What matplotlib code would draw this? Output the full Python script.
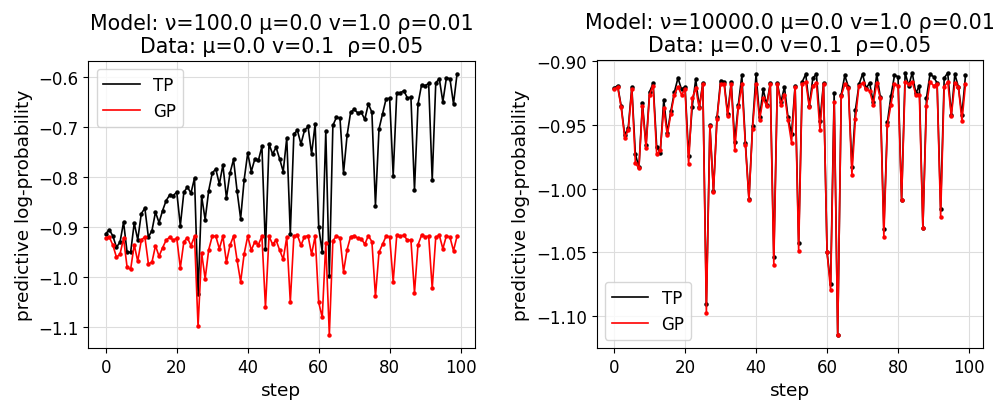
import numpy as np
import matplotlib
matplotlib.use("Agg")
import matplotlib.pyplot as plt

steps = list(range(100))

gp = [-0.922, -0.920, -0.936, -0.960, -0.954, -0.922, -0.980, -0.984, -0.935, -0.968,
      -0.926, -0.919, -0.973, -0.970, -0.937, -0.958, -0.941, -0.926, -0.920, -0.926,
      -0.922, -0.981, -0.929, -0.921, -0.937, -0.918, -1.098, -0.951, -1.003, -0.945,
      -0.918, -0.918, -0.943, -0.918, -0.970, -0.936, -0.918, -0.966, -1.009, -0.953,
      -0.918, -0.946, -0.929, -0.935, -0.918, -1.060, -0.918, -0.934, -0.926, -0.946,
      -0.964, -0.920, -1.049, -0.918, -0.916, -0.936, -0.919, -0.917, -0.954, -0.918,
      -1.050, -1.080, -0.932, -1.115, -0.927, -0.918, -0.921, -0.989, -0.945, -0.919,
      -0.917, -0.922, -0.923, -0.934, -0.917, -0.929, -1.038, -0.950, -0.934, -0.918,
      -0.919, -1.009, -0.916, -0.918, -0.916, -0.926, -0.926, -1.031, -0.935, -0.916,
      -0.919, -0.918, -1.022, -0.920, -0.916, -0.943, -0.917, -0.920, -0.947, -0.918]

tp_left = [-0.913, -0.905, -0.918, -0.940, -0.930, -0.890, -0.950, -0.950, -0.892, -0.925,
           -0.873, -0.862, -0.920, -0.907, -0.870, -0.891, -0.867, -0.847, -0.836, -0.837,
           -0.830, -0.897, -0.830, -0.820, -0.832, -0.802, -1.033, -0.838, -0.885, -0.827,
           -0.792, -0.784, -0.814, -0.776, -0.842, -0.792, -0.765, -0.828, -0.883, -0.805,
           -0.752, -0.789, -0.764, -0.767, -0.739, -0.943, -0.734, -0.754, -0.741, -0.764,
           -0.789, -0.722, -0.913, -0.714, -0.707, -0.734, -0.707, -0.699, -0.754, -0.694,
           -0.900, -0.949, -0.709, -0.998, -0.697, -0.681, -0.682, -0.792, -0.717, -0.671,
           -0.665, -0.672, -0.671, -0.685, -0.654, -0.671, -0.857, -0.704, -0.674, -0.644,
           -0.643, -0.797, -0.633, -0.632, -0.628, -0.642, -0.641, -0.826, -0.654, -0.616,
           -0.618, -0.613, -0.806, -0.612, -0.604, -0.650, -0.602, -0.604, -0.654, -0.594]

tp_right = [-0.921, -0.919, -0.935, -0.958, -0.952, -0.920, -0.973, -0.983, -0.933, -0.966,
            -0.924, -0.917, -0.967, -0.972, -0.930, -0.956, -0.939, -0.924, -0.913, -0.922,
            -0.920, -0.974, -0.936, -0.914, -0.936, -0.917, -1.091, -0.950, -1.002, -0.944,
            -0.915, -0.916, -0.941, -0.916, -0.963, -0.934, -0.911, -0.964, -1.008, -0.951,
            -0.910, -0.944, -0.922, -0.934, -0.917, -1.054, -0.917, -0.932, -0.920, -0.944,
            -0.957, -0.919, -1.043, -0.916, -0.910, -0.935, -0.913, -0.910, -0.947, -0.917,
            -1.050, -1.075, -0.925, -1.115, -0.926, -0.911, -0.920, -0.983, -0.938, -0.918,
            -0.910, -0.921, -0.917, -0.932, -0.910, -0.928, -1.032, -0.948, -0.927, -0.911,
            -0.912, -1.009, -0.909, -0.919, -0.909, -0.925, -0.919, -1.031, -0.929, -0.910,
            -0.912, -0.917, -1.016, -0.913, -0.909, -0.942, -0.910, -0.920, -0.942, -0.911]

titles = ["Model: \u03bd=100.0 \u03bc=0.0 v=1.0 \u03c1=0.01\nData: \u03bc=0.0 v=0.1  \u03c1=0.05",
          "Model: \u03bd=10000.0 \u03bc=0.0 v=1.0 \u03c1=0.01\nData: \u03bc=0.0 v=0.1  \u03c1=0.05"]
legend_locs = ["upper left", "lower left"]

plt.rcParams['font.family'] = ['DejaVu Sans']
fig = plt.figure(figsize=(9.95, 4.02), dpi=100)
axes = [fig.add_axes([0.0887, 0.1318, 0.3883, 0.7147]),
        fig.add_axes([0.5995, 0.1318, 0.3885, 0.7170])]

for ax, tp, title, loc in zip(axes, [tp_left, tp_right], titles, legend_locs):
    ax.plot(steps, tp, color='black', lw=1.2, label='TP')
    ax.plot(steps, tp, color='black', lw=0, marker='o', ms=2.2)
    ax.plot(steps, gp, color='red', lw=1.2, label='GP')
    ax.plot(steps, gp, color='red', lw=0, marker='o', ms=2.2)
    ax.set_title(title, fontsize=14.8)
    ax.set_xlabel('step', fontsize=13.3)
    ax.set_ylabel('predictive log-probability', fontsize=13.3)
    ax.tick_params(labelsize=12)
    ax.set_xticks([0, 20, 40, 60, 80, 100])
    ax.grid(True, color='#dddddd', lw=0.8)
    ax.legend(loc=loc, fontsize=12, handlelength=2.2)

fig.savefig('out.png', dpi=100)
